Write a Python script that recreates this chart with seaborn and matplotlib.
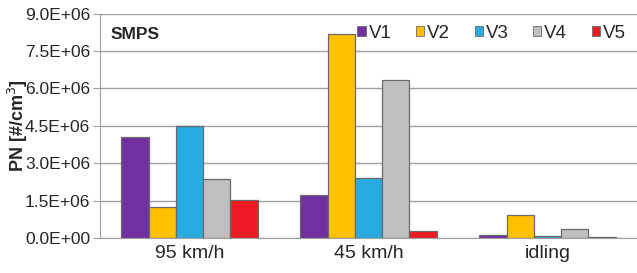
import pandas as pd
import numpy as np
import matplotlib
matplotlib.use("Agg")
import matplotlib.pyplot as plt
import seaborn as sns

# ---- data ----
categories = ["95 km/h", "45 km/h", "idling"]
vehicles = ["V1", "V2", "V3", "V4", "V5"]
v1 = [4.05e6, 1.73e6, 0.11e6]
v2 = [1.23e6, 8.19e6, 0.91e6]
v3 = [4.50e6, 2.40e6, 0.09e6]
v4 = [2.37e6, 6.35e6, 0.35e6]
v5 = [1.53e6, 0.28e6, 0.03e6]
colors = ["#7030A0", "#FFC000", "#29ABE2", "#C0BEBE", "#ED1C24"]
yticks = [0, 1.5e6, 3.0e6, 4.5e6, 6.0e6, 7.5e6, 9.0e6]

rows = []
for name, vals in zip(vehicles, [v1, v2, v3, v4, v5]):
    for cat, v in zip(categories, vals):
        rows.append({"mode": cat, "vehicle": name, "PN": v})
df = pd.DataFrame(rows)

sns.set_style("white")
plt.rcParams['font.family'] = ['Liberation Sans', 'DejaVu Sans']

fig = plt.figure(figsize=(6.37, 2.73), dpi=100)
ax = fig.add_axes([0.157, 0.128, 0.843, 0.822])

sns.barplot(data=df, x="mode", y="PN", hue="vehicle", order=categories,
            hue_order=vehicles, palette=colors, saturation=1, width=0.76, gap=0,
            edgecolor="#6a6a6a", linewidth=0.9, ax=ax, legend=False)

# grid + axes
ax.set_ylim(0, 9.0e6)
ax.set_yticks(yticks)
ax.set_yticklabels([f"{t:.1E}" for t in yticks], fontsize=12.5)
ax.yaxis.grid(True, color="#a0a0a0", linewidth=1.0)
ax.set_axisbelow(True)
ax.set_xlim(-0.5, 2.5)
ax.set_xticks(range(3))
ax.set_xticklabels(categories, fontsize=14)
ax.set_xticks([0.5, 1.5], minor=True)
ax.tick_params(axis="x", which="major", length=0, pad=5)
ax.tick_params(axis="x", which="minor", length=6, color="#a0a0a0", direction="out")
ax.tick_params(axis="y", length=5, color="#a0a0a0", left=True, pad=2)
for s in ["top", "right"]:
    ax.spines[s].set_visible(False)
ax.spines["left"].set_color("#a0a0a0")
ax.spines["bottom"].set_color("#a0a0a0")
ax.set_xlabel("")
ax.set_ylabel("PN [#/cm$^3$]", fontsize=13, fontweight="bold")
ax.yaxis.set_label_coords(-0.13, 0.5)

ax.text(0.02, 0.94, "SMPS", transform=ax.transAxes, fontsize=12.5,
        fontweight="bold", va="top", ha="left")

# legend
handles = [plt.Rectangle((0, 0), 1, 1, facecolor=c, edgecolor="#6a6a6a", linewidth=0.6)
           for c in colors]
ax.legend(handles, vehicles, loc="upper right", ncol=5, frameon=False,
          fontsize=13.5, handlelength=0.45, handleheight=0.45, handletextpad=0.15,
          columnspacing=1.3, bbox_to_anchor=(1.0, 1.0), borderaxespad=0.2)

fig.savefig("out.png", dpi=100)
